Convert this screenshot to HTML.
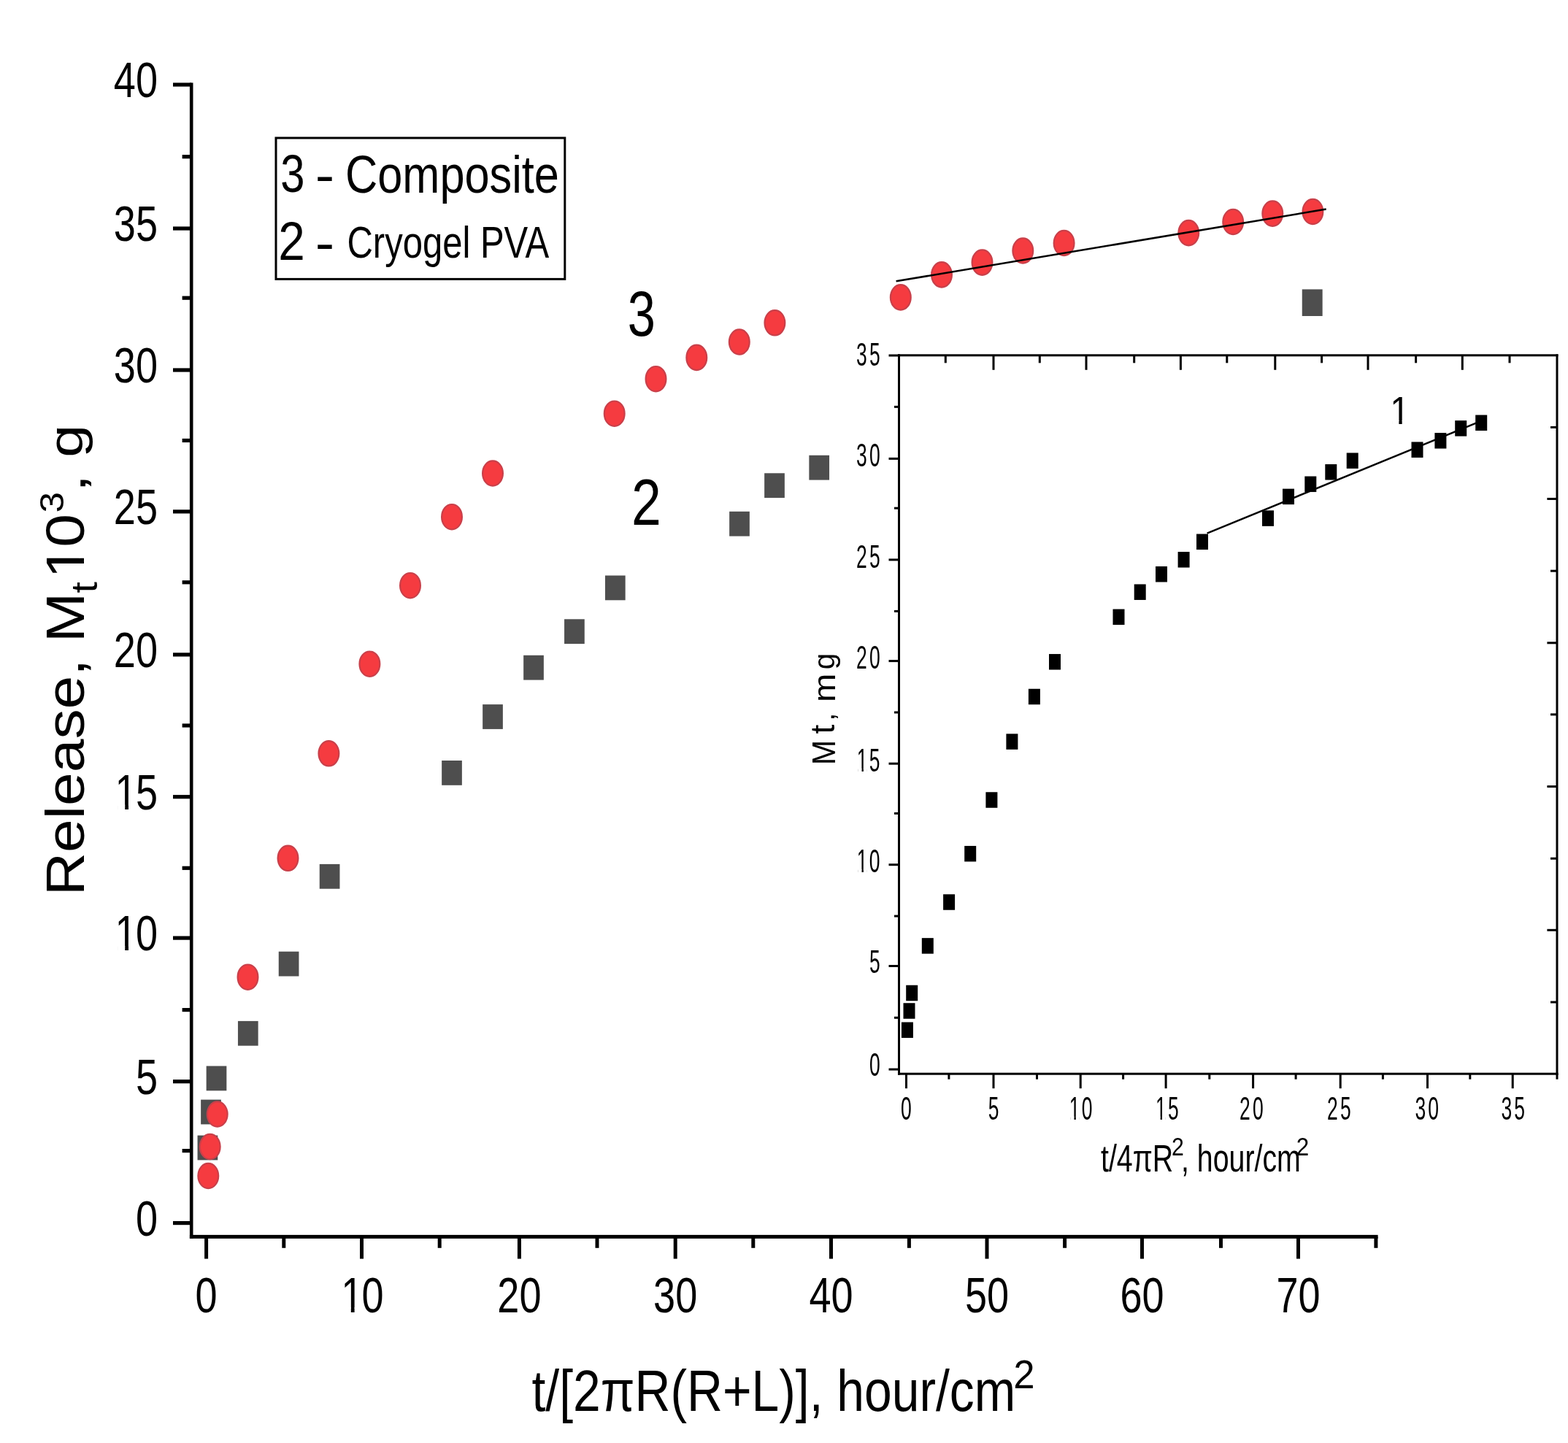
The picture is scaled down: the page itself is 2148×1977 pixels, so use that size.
<!DOCTYPE html>
<html><head><meta charset="utf-8"><title>Release chart</title>
<style>
html,body{margin:0;padding:0;background:#fff;}
body{width:2148px;height:1977px;overflow:hidden;}
svg{display:block;}
text{font-family:'Liberation Sans', Arial, Helvetica, sans-serif;}
</style></head>
<body>
<svg width="2148" height="1977" viewBox="0 0 2148 1977">
<rect width="2148" height="1977" fill="#fff"/>
<rect x="259.90" y="113.40" width="4.60" height="1583.50" fill="#000"/>
<rect x="259.90" y="1691.90" width="1627.70" height="5.00" fill="#000"/>
<rect x="237.00" y="1673.00" width="25.20" height="5.20" fill="#000"/>
<rect x="237.00" y="1479.10" width="25.20" height="5.20" fill="#000"/>
<rect x="237.00" y="1282.50" width="25.20" height="5.20" fill="#000"/>
<rect x="237.00" y="1089.10" width="25.20" height="5.20" fill="#000"/>
<rect x="237.00" y="894.30" width="25.20" height="5.20" fill="#000"/>
<rect x="237.00" y="698.30" width="25.20" height="5.20" fill="#000"/>
<rect x="237.00" y="504.40" width="25.20" height="5.20" fill="#000"/>
<rect x="237.00" y="310.40" width="25.20" height="5.20" fill="#000"/>
<rect x="237.00" y="113.40" width="25.20" height="5.20" fill="#000"/>
<rect x="249.60" y="1574.00" width="12.60" height="5.20" fill="#000"/>
<rect x="249.60" y="1381.00" width="12.60" height="5.20" fill="#000"/>
<rect x="249.60" y="1186.70" width="12.60" height="5.20" fill="#000"/>
<rect x="249.60" y="991.40" width="12.60" height="5.20" fill="#000"/>
<rect x="249.60" y="795.20" width="12.60" height="5.20" fill="#000"/>
<rect x="249.60" y="600.90" width="12.60" height="5.20" fill="#000"/>
<rect x="249.60" y="405.60" width="12.60" height="5.20" fill="#000"/>
<rect x="249.60" y="212.10" width="12.60" height="5.20" fill="#000"/>
<rect x="280.10" y="1694.40" width="5.00" height="30.20" fill="#000"/>
<rect x="493.00" y="1694.40" width="5.00" height="30.20" fill="#000"/>
<rect x="708.90" y="1694.40" width="5.00" height="30.20" fill="#000"/>
<rect x="922.70" y="1694.40" width="5.00" height="30.20" fill="#000"/>
<rect x="1136.00" y="1694.40" width="5.00" height="30.20" fill="#000"/>
<rect x="1349.50" y="1694.40" width="5.00" height="30.20" fill="#000"/>
<rect x="1562.00" y="1694.40" width="5.00" height="30.20" fill="#000"/>
<rect x="1776.00" y="1694.40" width="5.00" height="30.20" fill="#000"/>
<rect x="386.30" y="1694.40" width="5.00" height="15.40" fill="#000"/>
<rect x="599.70" y="1694.40" width="5.00" height="15.40" fill="#000"/>
<rect x="815.50" y="1694.40" width="5.00" height="15.40" fill="#000"/>
<rect x="1029.30" y="1694.40" width="5.00" height="15.40" fill="#000"/>
<rect x="1242.90" y="1694.40" width="5.00" height="15.40" fill="#000"/>
<rect x="1456.10" y="1694.40" width="5.00" height="15.40" fill="#000"/>
<rect x="1670.00" y="1694.40" width="5.00" height="15.40" fill="#000"/>
<rect x="1882.40" y="1694.40" width="5.00" height="15.40" fill="#000"/>
<g transform="translate(216.00,1692.60) scale(1.0000,1.2620)"><text x="-30.09" y="0" font-size="54.10" fill="#000">0</text></g>
<g transform="translate(216.00,1498.70) scale(1.0000,1.2620)"><text x="-30.09" y="0" font-size="54.10" fill="#000">5</text></g>
<g transform="translate(216.00,1302.10) scale(1.0000,1.2620)"><text x="-60.18" y="0" font-size="54.10" fill="#000" dx="1.80 -1.80">10</text><rect x="-54.92" y="-4.84" width="10.14" height="6.04" fill="#fff"/><rect x="-39.99" y="-4.84" width="9.72" height="6.04" fill="#fff"/></g>
<g transform="translate(216.00,1108.70) scale(1.0000,1.2620)"><text x="-60.18" y="0" font-size="54.10" fill="#000" dx="1.80 -1.80">15</text><rect x="-54.92" y="-4.84" width="10.14" height="6.04" fill="#fff"/><rect x="-39.99" y="-4.84" width="9.72" height="6.04" fill="#fff"/></g>
<g transform="translate(216.00,913.90) scale(1.0000,1.2620)"><text x="-60.18" y="0" font-size="54.10" fill="#000">20</text></g>
<g transform="translate(216.00,717.90) scale(1.0000,1.2620)"><text x="-60.18" y="0" font-size="54.10" fill="#000">25</text></g>
<g transform="translate(216.00,524.00) scale(1.0000,1.2620)"><text x="-60.18" y="0" font-size="54.10" fill="#000">30</text></g>
<g transform="translate(216.00,330.00) scale(1.0000,1.2620)"><text x="-60.18" y="0" font-size="54.10" fill="#000">35</text></g>
<g transform="translate(216.00,133.00) scale(1.0000,1.2620)"><text x="-60.18" y="0" font-size="54.10" fill="#000">40</text></g>
<g transform="translate(282.60,1797.50) scale(1.0000,1.2620)"><text x="-15.04" y="0" font-size="54.10" fill="#000">0</text></g>
<g transform="translate(495.50,1797.50) scale(1.0000,1.2620)"><text x="-30.09" y="0" font-size="54.10" fill="#000" dx="1.80 -1.80">10</text><rect x="-24.83" y="-4.84" width="10.14" height="6.04" fill="#fff"/><rect x="-9.91" y="-4.84" width="9.72" height="6.04" fill="#fff"/></g>
<g transform="translate(711.40,1797.50) scale(1.0000,1.2620)"><text x="-30.09" y="0" font-size="54.10" fill="#000">20</text></g>
<g transform="translate(925.20,1797.50) scale(1.0000,1.2620)"><text x="-30.09" y="0" font-size="54.10" fill="#000">30</text></g>
<g transform="translate(1138.50,1797.50) scale(1.0000,1.2620)"><text x="-30.09" y="0" font-size="54.10" fill="#000">40</text></g>
<g transform="translate(1352.00,1797.50) scale(1.0000,1.2620)"><text x="-30.09" y="0" font-size="54.10" fill="#000">50</text></g>
<g transform="translate(1564.50,1797.50) scale(1.0000,1.2620)"><text x="-30.09" y="0" font-size="54.10" fill="#000">60</text></g>
<g transform="translate(1778.50,1797.50) scale(1.0000,1.2620)"><text x="-30.09" y="0" font-size="54.10" fill="#000">70</text></g>
<g transform="translate(728.50,1932.60) scale(1.0000,1.1800)"><text x="0.00" y="0" font-size="67.80" fill="#000">t/[2πR(R+L)], hour/cm</text></g>
<g transform="translate(115.00,1227.30) scale(1,1.1210) rotate(-90) scale(1.0000,1)"><text x="0.00" y="0" font-size="73.30" fill="#000">Release, M</text></g>
<g transform="translate(132.70,812.50) scale(1,1.1210) rotate(-90) scale(1.0000,1)"><text x="0.00" y="0" font-size="49.50" fill="#000">t</text></g>
<g transform="translate(115.00,795.40) scale(1,1.1210) rotate(-90) scale(1.0000,1)"><text x="0.00" y="0" font-size="73.30" fill="#000" dx="2.43 -2.43">10</text><rect x="7.12" y="-6.28" width="13.74" height="7.48" fill="#fff"/><rect x="27.34" y="-6.28" width="13.17" height="7.48" fill="#fff"/></g>
<g transform="translate(86.80,702.50) scale(1,1.1210) rotate(-90) scale(1.0000,1)"><text x="0.00" y="0" font-size="45.80" fill="#000">3</text></g>
<g transform="translate(473.00,263.70) scale(1.0000,1.1740)"><text x="0.00" y="0" font-size="61.30" fill="#000">Composite</text></g>
<g transform="translate(475.50,352.50) scale(1.0000,1.2300)"><text x="0.00" y="0" font-size="49.00" fill="#000">Cryogel PVA</text></g>
<g transform="translate(1508.00,1605.00) scale(1.0000,1.3390)"><text x="0.00" y="0" font-size="39.30" fill="#000">t/4πR</text></g>
<g transform="translate(1618.00,1605.00) scale(1.0000,1.3390)"><text x="0.00" y="0" font-size="39.30" fill="#000">, hour/cm</text></g>
<g transform="translate(1902.60,581.00) scale(1.0000,1.1110)"><text x="0.00" y="0" font-size="48.40" fill="#000" dx="1.61">1</text><rect x="4.70" y="-4.42" width="9.07" height="5.62" fill="#fff"/><rect x="18.06" y="-4.42" width="8.70" height="5.62" fill="#fff"/></g>
<text transform="translate(1388.35,1901.60) scale(0.5268,0.5614)" font-size="100.00" fill="#000">2</text>
<text transform="translate(384.23,262.99) scale(0.5969,0.7246)" font-size="100.00" fill="#000">3</text>
<text transform="translate(431.77,264.25) scale(0.7946,0.7040)" font-size="100.00" fill="#000">-</text>
<text transform="translate(381.30,355.80) scale(0.6563,0.7419)" font-size="100.00" fill="#000">2</text>
<text transform="translate(431.87,357.33) scale(0.7946,0.7296)" font-size="100.00" fill="#000">-</text>
<text transform="translate(859.69,459.65) scale(0.6855,0.8686)" font-size="100.00" fill="#000">3</text>
<text transform="translate(865.11,719.40) scale(0.7332,0.8836)" font-size="100.00" fill="#000">2</text>
<text transform="translate(1604.98,1583.30) scale(0.3029,0.3466)" font-size="100.00" fill="#000">2</text>
<text transform="translate(1775.72,1583.30) scale(0.3139,0.3466)" font-size="100.00" fill="#000">2</text>
<text transform="translate(1143.80,1047.95) rotate(-90) scale(0.4081,0.4390)" font-size="100.00" fill="#000">M</text>
<text transform="translate(1143.44,1005.39) rotate(-90) scale(0.4582,0.4616)" font-size="100.00" fill="#000">t</text>
<text transform="translate(1143.42,987.77) rotate(-90) scale(0.3974,0.4130)" font-size="100.00" fill="#000">,</text>
<text transform="translate(1143.80,962.04) rotate(-90) scale(0.4724,0.4163)" font-size="100.00" fill="#000">m</text>
<text transform="translate(1142.82,917.29) rotate(-90) scale(0.4025,0.3991)" font-size="100.00" fill="#000">g</text>
<text transform="translate(116.69,675.02) rotate(-90) scale(0.9374,0.6259)" font-size="100.00" fill="#000">,</text>
<text transform="translate(112.55,626.69) rotate(-90) scale(0.8072,0.6625)" font-size="100.00" fill="#000">g</text>
<rect x="378.0" y="189.0" width="395.8" height="193.4" fill="none" stroke="#000" stroke-width="3.0"/>
<rect x="270.55" y="1555.60" width="27.70" height="33.80" fill="#4E4E4E"/>
<rect x="275.15" y="1506.60" width="27.70" height="33.80" fill="#4E4E4E"/>
<rect x="282.65" y="1460.50" width="27.70" height="33.80" fill="#4E4E4E"/>
<rect x="325.95" y="1398.90" width="27.70" height="33.80" fill="#4E4E4E"/>
<rect x="381.75" y="1303.70" width="27.70" height="33.80" fill="#4E4E4E"/>
<rect x="437.75" y="1183.90" width="27.70" height="33.80" fill="#4E4E4E"/>
<rect x="605.15" y="1042.00" width="27.70" height="33.80" fill="#4E4E4E"/>
<rect x="661.15" y="965.10" width="27.70" height="33.80" fill="#4E4E4E"/>
<rect x="717.15" y="897.80" width="27.70" height="33.80" fill="#4E4E4E"/>
<rect x="773.05" y="848.30" width="27.70" height="33.80" fill="#4E4E4E"/>
<rect x="828.95" y="788.50" width="27.70" height="33.80" fill="#4E4E4E"/>
<rect x="999.15" y="700.80" width="27.70" height="33.80" fill="#4E4E4E"/>
<rect x="1047.15" y="648.30" width="27.70" height="33.80" fill="#4E4E4E"/>
<rect x="1108.35" y="623.80" width="27.70" height="33.80" fill="#4E4E4E"/>
<rect x="1783.75" y="396.40" width="27.90" height="36.60" fill="#4E4E4E"/>
<ellipse cx="285.3" cy="1611.0" rx="13.90" ry="17.20" fill="#F53B40" stroke="#C9404A" stroke-width="2.2"/>
<ellipse cx="287.7" cy="1571.0" rx="13.90" ry="17.20" fill="#F53B40" stroke="#C9404A" stroke-width="2.2"/>
<ellipse cx="297.7" cy="1526.5" rx="13.90" ry="17.20" fill="#F53B40" stroke="#C9404A" stroke-width="2.2"/>
<ellipse cx="339.5" cy="1338.7" rx="13.90" ry="17.20" fill="#F53B40" stroke="#C9404A" stroke-width="2.2"/>
<ellipse cx="394.5" cy="1175.8" rx="13.90" ry="17.20" fill="#F53B40" stroke="#C9404A" stroke-width="2.2"/>
<ellipse cx="450.4" cy="1032.3" rx="13.90" ry="17.20" fill="#F53B40" stroke="#C9404A" stroke-width="2.2"/>
<ellipse cx="506.4" cy="909.7" rx="13.90" ry="17.20" fill="#F53B40" stroke="#C9404A" stroke-width="2.2"/>
<ellipse cx="562.0" cy="802.2" rx="13.90" ry="17.20" fill="#F53B40" stroke="#C9404A" stroke-width="2.2"/>
<ellipse cx="619.0" cy="708.2" rx="13.90" ry="17.20" fill="#F53B40" stroke="#C9404A" stroke-width="2.2"/>
<ellipse cx="675.0" cy="648.5" rx="13.90" ry="17.20" fill="#F53B40" stroke="#C9404A" stroke-width="2.2"/>
<ellipse cx="841.7" cy="566.7" rx="13.90" ry="17.20" fill="#F53B40" stroke="#C9404A" stroke-width="2.2"/>
<ellipse cx="898.5" cy="519.2" rx="13.90" ry="17.20" fill="#F53B40" stroke="#C9404A" stroke-width="2.2"/>
<ellipse cx="954.3" cy="489.9" rx="13.90" ry="17.20" fill="#F53B40" stroke="#C9404A" stroke-width="2.2"/>
<ellipse cx="1012.8" cy="468.5" rx="13.90" ry="17.20" fill="#F53B40" stroke="#C9404A" stroke-width="2.2"/>
<ellipse cx="1061.4" cy="442.3" rx="13.90" ry="17.20" fill="#F53B40" stroke="#C9404A" stroke-width="2.2"/>
<ellipse cx="1233.8" cy="407.4" rx="13.90" ry="17.20" fill="#F53B40" stroke="#C9404A" stroke-width="2.2"/>
<ellipse cx="1290.0" cy="376.4" rx="13.90" ry="17.20" fill="#F53B40" stroke="#C9404A" stroke-width="2.2"/>
<ellipse cx="1345.5" cy="359.6" rx="13.90" ry="17.20" fill="#F53B40" stroke="#C9404A" stroke-width="2.2"/>
<ellipse cx="1401.3" cy="343.5" rx="13.90" ry="17.20" fill="#F53B40" stroke="#C9404A" stroke-width="2.2"/>
<ellipse cx="1457.6" cy="333.0" rx="13.90" ry="17.20" fill="#F53B40" stroke="#C9404A" stroke-width="2.2"/>
<ellipse cx="1628.3" cy="319.1" rx="13.90" ry="17.20" fill="#F53B40" stroke="#C9404A" stroke-width="2.2"/>
<ellipse cx="1689.2" cy="304.0" rx="13.90" ry="17.20" fill="#F53B40" stroke="#C9404A" stroke-width="2.2"/>
<ellipse cx="1743.3" cy="292.6" rx="13.90" ry="17.20" fill="#F53B40" stroke="#C9404A" stroke-width="2.2"/>
<ellipse cx="1798.4" cy="290.0" rx="13.90" ry="17.20" fill="#F53B40" stroke="#C9404A" stroke-width="2.2"/>
<line x1="1227.60" y1="385.30" x2="1816.70" y2="286.60" stroke="#000" stroke-width="2.5"/>
<rect x="1230.00" y="485.30" width="904.50" height="3.00" fill="#000"/>
<rect x="1230.00" y="1469.70" width="904.50" height="3.00" fill="#000"/>
<rect x="1230.00" y="485.30" width="3.00" height="987.40" fill="#000"/>
<rect x="2131.50" y="485.30" width="3.00" height="987.40" fill="#000"/>
<rect x="1217.50" y="1463.60" width="14.00" height="3.00" fill="#000"/>
<rect x="1217.50" y="1322.00" width="14.00" height="3.00" fill="#000"/>
<rect x="1217.50" y="1183.20" width="14.00" height="3.00" fill="#000"/>
<rect x="1217.50" y="1044.70" width="14.00" height="3.00" fill="#000"/>
<rect x="1217.50" y="904.10" width="14.00" height="3.00" fill="#000"/>
<rect x="1217.50" y="765.40" width="14.00" height="3.00" fill="#000"/>
<rect x="1217.50" y="626.90" width="14.00" height="3.00" fill="#000"/>
<rect x="1217.50" y="485.50" width="14.00" height="3.00" fill="#000"/>
<rect x="1225.00" y="1392.80" width="6.50" height="3.00" fill="#000"/>
<rect x="1225.00" y="1253.60" width="6.50" height="3.00" fill="#000"/>
<rect x="1225.00" y="1112.90" width="6.50" height="3.00" fill="#000"/>
<rect x="1225.00" y="974.50" width="6.50" height="3.00" fill="#000"/>
<rect x="1225.00" y="835.90" width="6.50" height="3.00" fill="#000"/>
<rect x="1225.00" y="694.70" width="6.50" height="3.00" fill="#000"/>
<rect x="1225.00" y="555.90" width="6.50" height="3.00" fill="#000"/>
<rect x="1240.00" y="1471.20" width="3.00" height="20.00" fill="#000"/>
<rect x="1359.50" y="1471.20" width="3.00" height="20.00" fill="#000"/>
<rect x="1478.70" y="1471.20" width="3.00" height="20.00" fill="#000"/>
<rect x="1595.60" y="1471.20" width="3.00" height="20.00" fill="#000"/>
<rect x="1715.10" y="1471.20" width="3.00" height="20.00" fill="#000"/>
<rect x="1834.70" y="1471.20" width="3.00" height="20.00" fill="#000"/>
<rect x="1954.00" y="1471.20" width="3.00" height="20.00" fill="#000"/>
<rect x="2070.70" y="1471.20" width="3.00" height="20.00" fill="#000"/>
<rect x="1298.40" y="1471.20" width="3.00" height="7.50" fill="#000"/>
<rect x="1419.00" y="1471.20" width="3.00" height="7.50" fill="#000"/>
<rect x="1537.10" y="1471.20" width="3.00" height="7.50" fill="#000"/>
<rect x="1655.30" y="1471.20" width="3.00" height="7.50" fill="#000"/>
<rect x="1773.60" y="1471.20" width="3.00" height="7.50" fill="#000"/>
<rect x="1892.90" y="1471.20" width="3.00" height="7.50" fill="#000"/>
<rect x="2012.30" y="1471.20" width="3.00" height="7.50" fill="#000"/>
<rect x="2131.50" y="1471.20" width="3.00" height="7.50" fill="#000"/>
<rect x="1359.50" y="486.80" width="3.00" height="20.00" fill="#000"/>
<rect x="1486.50" y="486.80" width="3.00" height="20.00" fill="#000"/>
<rect x="1615.90" y="486.80" width="3.00" height="20.00" fill="#000"/>
<rect x="1745.30" y="486.80" width="3.00" height="20.00" fill="#000"/>
<rect x="1872.50" y="486.80" width="3.00" height="20.00" fill="#000"/>
<rect x="2001.80" y="486.80" width="3.00" height="20.00" fill="#000"/>
<rect x="1293.80" y="486.80" width="3.00" height="10.50" fill="#000"/>
<rect x="1422.80" y="486.80" width="3.00" height="10.50" fill="#000"/>
<rect x="1552.20" y="486.80" width="3.00" height="10.50" fill="#000"/>
<rect x="1679.30" y="486.80" width="3.00" height="10.50" fill="#000"/>
<rect x="1809.10" y="486.80" width="3.00" height="10.50" fill="#000"/>
<rect x="1938.10" y="486.80" width="3.00" height="10.50" fill="#000"/>
<rect x="2066.50" y="486.80" width="3.00" height="10.50" fill="#000"/>
<rect x="2119.40" y="682.00" width="13.60" height="3.00" fill="#000"/>
<rect x="2119.40" y="879.30" width="13.60" height="3.00" fill="#000"/>
<rect x="2119.40" y="1076.10" width="13.60" height="3.00" fill="#000"/>
<rect x="2119.40" y="1272.80" width="13.60" height="3.00" fill="#000"/>
<rect x="2124.00" y="583.90" width="9.00" height="3.00" fill="#000"/>
<rect x="2124.00" y="780.70" width="9.00" height="3.00" fill="#000"/>
<rect x="2124.00" y="977.40" width="9.00" height="3.00" fill="#000"/>
<rect x="2124.00" y="1174.70" width="9.00" height="3.00" fill="#000"/>
<rect x="2124.00" y="1371.50" width="9.00" height="3.00" fill="#000"/>
<g transform="translate(1205.60,1474.00) scale(0.8200,1.3700)"><text x="-17.96" y="0" font-size="32.30" fill="#000">0</text></g>
<g transform="translate(1205.60,1333.20) scale(0.8200,1.3700)"><text x="-17.96" y="0" font-size="32.30" fill="#000">5</text></g>
<g transform="translate(1205.60,1195.20) scale(0.8200,1.3700)"><text x="-39.79" y="0" font-size="32.30" fill="#000" dx="1.07 2.79">10</text><rect x="-36.65" y="-3.21" width="6.06" height="4.41" fill="#fff"/><rect x="-27.74" y="-3.21" width="5.80" height="4.41" fill="#fff"/></g>
<g transform="translate(1205.60,1057.30) scale(0.8200,1.3700)"><text x="-39.79" y="0" font-size="32.30" fill="#000" dx="1.07 2.79">15</text><rect x="-36.65" y="-3.21" width="6.06" height="4.41" fill="#fff"/><rect x="-27.74" y="-3.21" width="5.80" height="4.41" fill="#fff"/></g>
<g transform="translate(1205.60,915.90) scale(0.8200,1.3700)"><text x="-39.79" y="0" font-size="32.30" fill="#000" dx="0.00 3.87">20</text></g>
<g transform="translate(1205.60,777.90) scale(0.8200,1.3700)"><text x="-39.79" y="0" font-size="32.30" fill="#000" dx="0.00 3.87">25</text></g>
<g transform="translate(1205.60,639.40) scale(0.8200,1.3700)"><text x="-39.79" y="0" font-size="32.30" fill="#000" dx="0.00 3.87">30</text></g>
<g transform="translate(1205.60,500.60) scale(0.8200,1.3700)"><text x="-39.79" y="0" font-size="32.30" fill="#000" dx="0.00 3.87">35</text></g>
<g transform="translate(1241.30,1534.30) scale(0.8200,1.3700)"><text x="-8.98" y="0" font-size="32.30" fill="#000">0</text></g>
<g transform="translate(1361.00,1534.30) scale(0.8200,1.3700)"><text x="-8.98" y="0" font-size="32.30" fill="#000">5</text></g>
<g transform="translate(1480.25,1534.30) scale(0.8200,1.3700)"><text x="-19.90" y="0" font-size="32.30" fill="#000" dx="1.07 2.79">10</text><rect x="-16.76" y="-3.21" width="6.06" height="4.41" fill="#fff"/><rect x="-7.85" y="-3.21" width="5.80" height="4.41" fill="#fff"/></g>
<g transform="translate(1598.45,1534.30) scale(0.8200,1.3700)"><text x="-19.90" y="0" font-size="32.30" fill="#000" dx="1.07 2.79">15</text><rect x="-16.76" y="-3.21" width="6.06" height="4.41" fill="#fff"/><rect x="-7.85" y="-3.21" width="5.80" height="4.41" fill="#fff"/></g>
<g transform="translate(1714.30,1534.30) scale(0.8200,1.3700)"><text x="-19.90" y="0" font-size="32.30" fill="#000" dx="0.00 3.87">20</text></g>
<g transform="translate(1834.40,1534.30) scale(0.8200,1.3700)"><text x="-19.90" y="0" font-size="32.30" fill="#000" dx="0.00 3.87">25</text></g>
<g transform="translate(1954.75,1534.30) scale(0.8200,1.3700)"><text x="-19.90" y="0" font-size="32.30" fill="#000" dx="0.00 3.87">30</text></g>
<g transform="translate(2072.70,1534.30) scale(0.8200,1.3700)"><text x="-19.90" y="0" font-size="32.30" fill="#000" dx="0.00 3.87">35</text></g>
<line x1="1653.60" y1="730.60" x2="2030.00" y2="576.30" stroke="#000" stroke-width="2.5"/>
<rect x="1234.90" y="1400.45" width="16.00" height="21.50" fill="#000"/>
<rect x="1237.50" y="1374.25" width="16.00" height="21.50" fill="#000"/>
<rect x="1241.20" y="1349.75" width="16.00" height="21.50" fill="#000"/>
<rect x="1262.80" y="1285.15" width="16.00" height="21.50" fill="#000"/>
<rect x="1292.10" y="1225.25" width="16.00" height="21.50" fill="#000"/>
<rect x="1321.20" y="1158.95" width="16.00" height="21.50" fill="#000"/>
<rect x="1350.40" y="1085.25" width="16.00" height="21.50" fill="#000"/>
<rect x="1378.40" y="1005.35" width="16.00" height="21.50" fill="#000"/>
<rect x="1408.90" y="943.75" width="16.00" height="21.50" fill="#000"/>
<rect x="1437.00" y="896.05" width="16.00" height="21.50" fill="#000"/>
<rect x="1524.50" y="834.55" width="16.00" height="21.50" fill="#000"/>
<rect x="1553.70" y="800.45" width="16.00" height="21.50" fill="#000"/>
<rect x="1583.00" y="775.95" width="16.00" height="21.50" fill="#000"/>
<rect x="1613.60" y="756.05" width="16.00" height="21.50" fill="#000"/>
<rect x="1639.00" y="731.55" width="16.00" height="21.50" fill="#000"/>
<rect x="1729.00" y="699.35" width="16.00" height="21.50" fill="#000"/>
<rect x="1757.00" y="669.65" width="16.00" height="21.50" fill="#000"/>
<rect x="1787.30" y="652.55" width="16.00" height="21.50" fill="#000"/>
<rect x="1815.30" y="636.05" width="16.00" height="21.50" fill="#000"/>
<rect x="1844.70" y="620.45" width="16.00" height="21.50" fill="#000"/>
<rect x="1933.50" y="605.45" width="16.00" height="21.50" fill="#000"/>
<rect x="1965.40" y="593.05" width="16.00" height="21.50" fill="#000"/>
<rect x="1993.20" y="576.15" width="16.00" height="21.50" fill="#000"/>
<rect x="2021.20" y="568.55" width="16.00" height="21.50" fill="#000"/>
</svg>
</body></html>
